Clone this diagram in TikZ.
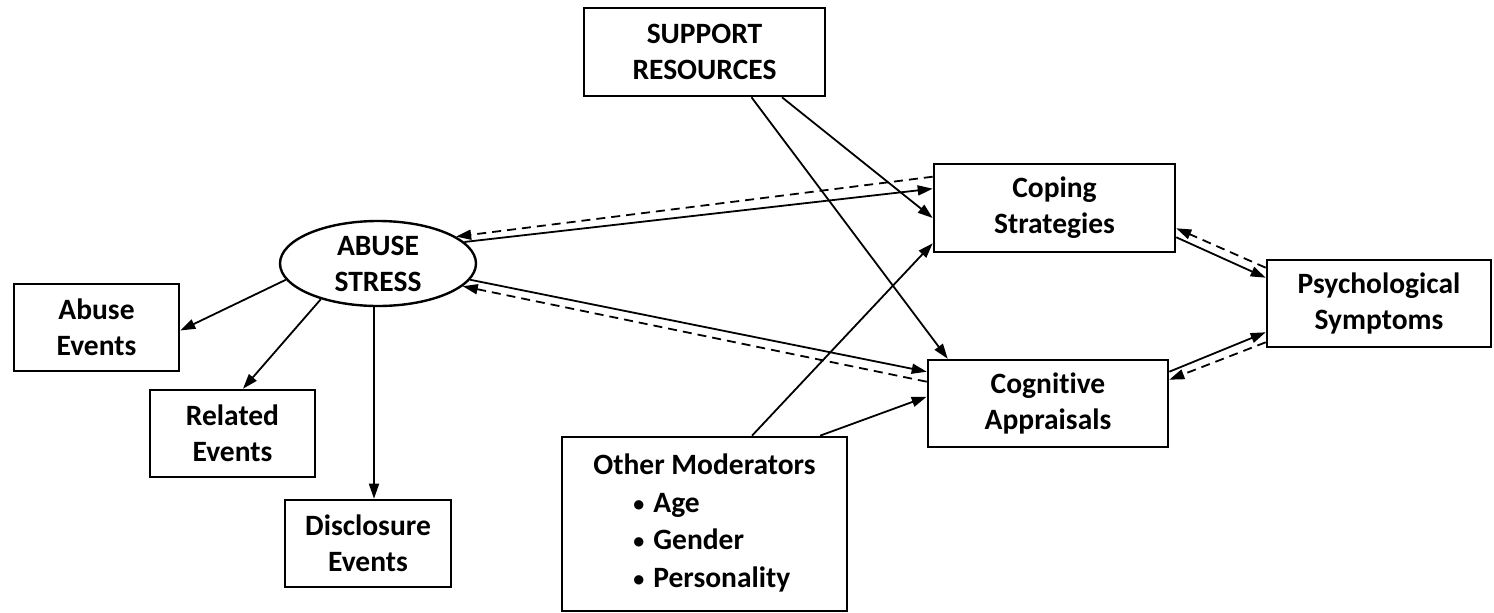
\documentclass[tikz,border=0pt]{standalone}
\usepackage{fontspec}
\setmainfont[Ligatures=CommonOff]{Carlito}
\usetikzlibrary{arrows.meta,shapes.geometric}
\newcommand{\dfont}{\fontsize{29.5}{36}\selectfont\bfseries}
\newcommand{\smbul}{\raisebox{1pt}{\fontsize{22}{22}\selectfont\textbullet}}
\tikzset{
  box/.style={draw, line width=2.6pt, inner sep=0pt, align=center, font=\dfont},
  conn/.style={line width=1.8pt, -{Triangle[length=15pt,width=10pt]}},
  dconn/.style={conn, dash pattern=on 9pt off 6pt},
}
\begin{document}
\begin{tikzpicture}[x=1pt,y=-1pt]
\useasboundingbox (0,0) rectangle (1494,613);
% nodes
\node[box, minimum width=241pt, minimum height=88pt] (sup) at (704.5,52) {SUPPORT\\RESOURCES};
\node[box, minimum width=241pt, minimum height=88pt] (cope) at (1054.5,208) {Coping\\Strategies};
\node[box, minimum width=240pt, minimum height=87pt] (cog) at (1048,403.5) {Cognitive\\Appraisals};
\node[box, minimum width=224pt, minimum height=87pt] (psy) at (1379,303.5) {Psychological\\Symptoms};
\node[draw, ellipse, line width=2.4pt, inner sep=0pt, align=center, font=\dfont,
      minimum width=196pt, minimum height=85pt] (abuse) at (378,263.5) {ABUSE\\STRESS};
\node[box, minimum width=165pt, minimum height=87pt] (ae) at (96.5,327.5) {Abuse\\Events};
\node[box, minimum width=165pt, minimum height=87pt] (re) at (232.5,433.5) {Related\\Events};
\node[box, minimum width=166pt, minimum height=87pt] (de) at (368,543.5) {Disclosure\\Events};
\node[box, minimum width=285pt, minimum height=174pt] (om) at (704.5,524) {%
  \begin{tabular}{@{}l@{}}Other Moderators\\[1.5pt]
  \hspace{40pt}\makebox[20pt][l]{\smbul}Age\\[1.5pt]
  \hspace{40pt}\makebox[20pt][l]{\smbul}Gender\\[1.5pt]
  \hspace{40pt}\makebox[20pt][l]{\smbul}Personality\end{tabular}};
% connectors from abuse stress
\draw[conn] (abuse.190) -- ([yshift=-3pt]ae.east);
\draw[conn] (abuse.212) -- ([xshift=10.5pt]re.north);
\draw[conn] ([xshift=-4pt]abuse.south) -- ([xshift=-4pt]abuse.south |- de.north);
% abuse <-> coping / cognitive
\draw[dconn] ([yshift=-14pt]cope.north west) -- (abuse.19);
\draw[conn] (abuse.14) -- ([yshift=-26pt]cope.north west);
\draw[conn] (abuse.-10) -- ([yshift=-13pt]cog.north west);
\draw[dconn] ([yshift=-23pt]cog.north west) -- (abuse.-15);
% support resources
\draw[conn] ([xshift=77.5pt]sup.south) -- ([yshift=-10pt]cope.west);
\draw[conn] ([xshift=47pt]sup.south) -- ([xshift=21pt]cog.north west);
% other moderators
\draw[conn] ([xshift=47.5pt]om.north) -- ([yshift=10pt]cope.south west);
\draw[conn] ([xshift=115.5pt]om.north) -- ([yshift=-38pt]cog.north west);
% psychological symptoms
\draw[conn] ([yshift=16pt]cope.south east) -- ([yshift=-19pt]psy.north west);
\draw[dconn] ([yshift=-9pt]psy.north west) -- ([yshift=25pt]cope.south east);
\draw[conn] ([yshift=-13pt]cog.north east) -- ([yshift=16pt]psy.south west);
\draw[dconn] ([yshift=6pt]psy.south west) -- ([yshift=-21pt]cog.north east);
\end{tikzpicture}
\end{document}
